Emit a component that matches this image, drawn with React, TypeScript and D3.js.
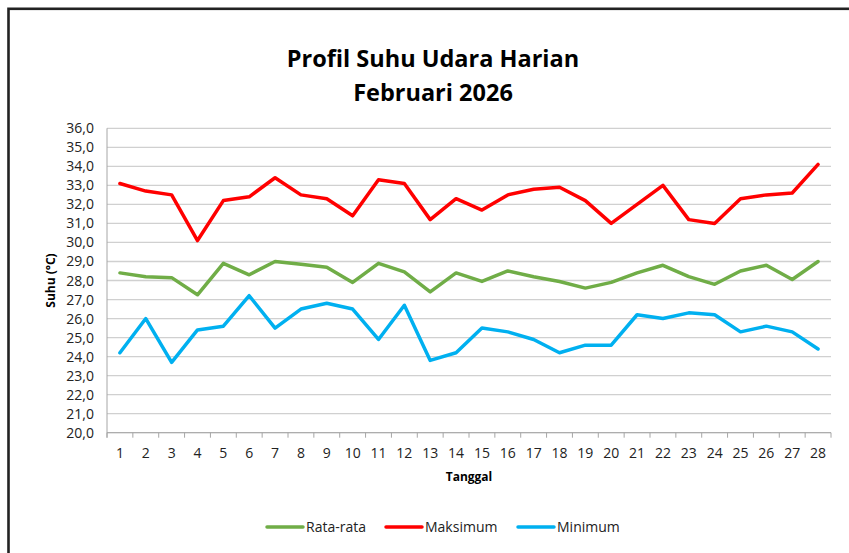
import React from "react";
import * as d3 from "d3";

const days: number[] = Array.from({ length: 28 }, (_, i) => i + 1);
const rataRata: number[] = [28.4, 28.2, 28.15, 27.25, 28.9, 28.3, 29.0, 28.85, 28.7, 27.9, 28.9, 28.45, 27.4, 28.4, 27.95, 28.5, 28.2, 27.95, 27.6, 27.9, 28.4, 28.8, 28.2, 27.8, 28.5, 28.8, 28.05, 29.0];
const maksimum: number[] = [33.1, 32.7, 32.5, 30.1, 32.2, 32.4, 33.4, 32.5, 32.3, 31.4, 33.3, 33.1, 31.2, 32.3, 31.7, 32.5, 32.8, 32.9, 32.2, 31.0, 32.0, 33.0, 31.2, 31.0, 32.3, 32.5, 32.6, 34.1];
const minimum: number[] = [24.2, 26.0, 23.7, 25.4, 25.6, 27.2, 25.5, 26.5, 26.8, 26.5, 24.9, 26.7, 23.8, 24.2, 25.5, 25.3, 24.9, 24.2, 24.6, 24.6, 26.2, 26.0, 26.3, 26.2, 25.3, 25.6, 25.3, 24.4];
const yTicks: number[] = [20, 21, 22, 23, 24, 25, 26, 27, 28, 29, 30, 31, 32, 33, 34, 35, 36];
const seriesNames: string[] = ["Rata-rata", "Maksimum", "Minimum"];
const seriesColors: string[] = ["#70ad47", "#ff0000", "#00b0f0"];
const titleLines: string[] = ["Profil Suhu Udara Harian", "Februari 2026"];

const W = 849;
const H = 553;
const FONT = "'Open Sans', 'Liberation Sans', sans-serif";

export default function App() {
  const left = 107;
  const right = 831;
  const top = 128.3;
  const bottom = 432.7;
  const x = d3.scaleBand<number>().domain(days).range([left, right]);
  const y = d3.scaleLinear().domain([20, 36]).range([bottom, top]);
  const line = d3
    .line<number>()
    .x((_, i) => (x(days[i]) as number) + x.bandwidth() / 2)
    .y((d) => y(d));
  const series = [rataRata, maksimum, minimum];
  const fmt = (v: number) => v.toFixed(1).replace(".", ",");
  const boundaries = d3.range(days.length + 1).map((i) => left + i * x.step());

  const legendItems = [
    { x0: 267, name: seriesNames[0], color: seriesColors[0] },
    { x0: 386, name: seriesNames[1], color: seriesColors[1] },
    { x0: 518, name: seriesNames[2], color: seriesColors[2] },
  ];

  return (
    <div style={{ position: "absolute", left: 0, top: 0 }}>
      <svg width={W} height={H} style={{ display: "block", background: "#fff" }}>
        <rect x={8.5} y={8.8} width={W + 20} height={H + 20} fill="#fff" stroke="#222" strokeWidth={2.6} />
        {titleLines.map((t, i) => (
          <text
            key={t}
            x={433}
            y={67 + i * 34}
            textAnchor="middle"
            fontFamily={FONT}
            fontWeight="bold"
            fontSize={23.5}
            fill="#000"
          >
            {t}
          </text>
        ))}
        {yTicks.map((t) => (
          <g key={t}>
            <line x1={left} x2={right} y1={y(t)} y2={y(t)} stroke="#d0d0d0" strokeWidth={1.3} />
            <text x={94} y={y(t) + 5} textAnchor="end" fontFamily={FONT} fontSize={14} fill="#222">
              {fmt(t)}
            </text>
          </g>
        ))}
        <line x1={left} x2={left} y1={top} y2={bottom + 5} stroke="#a6a6a6" strokeWidth={1} />
        <line x1={left} x2={right} y1={bottom} y2={bottom} stroke="#a6a6a6" strokeWidth={1} />
        {boundaries.map((b, i) => (
          <line key={i} x1={b} x2={b} y1={bottom} y2={bottom + 5} stroke="#a6a6a6" strokeWidth={1} />
        ))}
        {days.map((d) => (
          <text
            key={d}
            x={(x(d) as number) + x.bandwidth() / 2}
            y={458}
            textAnchor="middle"
            fontFamily={FONT}
            fontSize={14}
            fill="#222"
          >
            {d}
          </text>
        ))}
        <text x={469} y={481} textAnchor="middle" fontFamily={FONT} fontWeight="bold" fontSize={12} fill="#000">
          Tanggal
        </text>
        <text
          transform={`translate(55,${(top + bottom) / 2}) rotate(-90)`}
          textAnchor="middle"
          fontFamily={FONT}
          fontWeight="bold"
          fontSize={12}
          fill="#000"
        >
          Suhu (°C)
        </text>
        {series.map((s, i) => (
          <path
            key={i}
            d={line(s) || ""}
            fill="none"
            stroke={seriesColors[i]}
            strokeWidth={3.5}
            strokeLinejoin="round"
            strokeLinecap="round"
          />
        ))}
        {legendItems.map((it) => (
          <g key={it.name}>
            <line x1={it.x0} x2={it.x0 + 36} y1={527} y2={527} stroke={it.color} strokeWidth={3.5} strokeLinecap="round" />
            <text x={it.x0 + 39} y={532} fontFamily={FONT} fontSize={14} fill="#222">
              {it.name}
            </text>
          </g>
        ))}
      </svg>
    </div>
  );
}
